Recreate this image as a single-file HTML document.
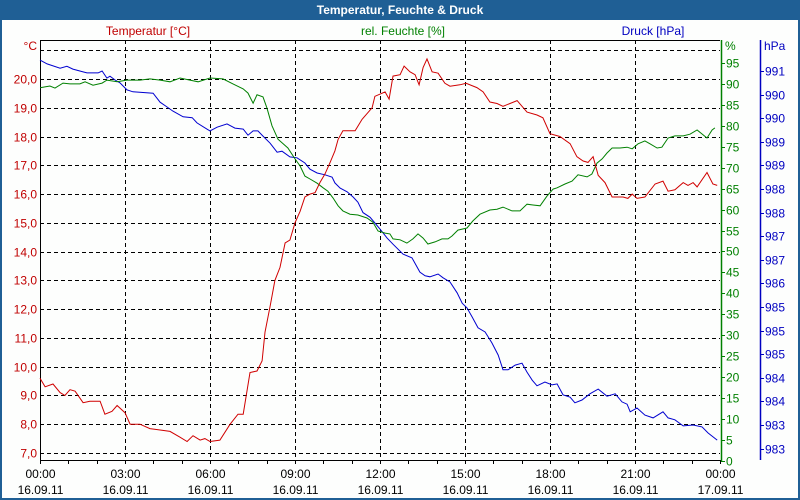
<!DOCTYPE html>
<html><head><meta charset="utf-8"><style>
html,body{margin:0;padding:0;background:#fff}
svg{display:block;font-family:"Liberation Sans",sans-serif}
</style></head><body>
<svg id="chart" width="800" height="500" viewBox="0 0 800 500" xmlns="http://www.w3.org/2000/svg">
<rect x="0" y="0" width="800" height="500" fill="#1f5f95"/>
<rect x="2" y="20" width="796" height="478" fill="#fdfefd"/>
<text x="400" y="14" text-anchor="middle" fill="#fff" font-weight="bold" font-size="12">Temperatur, Feuchte &amp; Druck</text>
<text x="148" y="35" text-anchor="middle" fill="#c00000" font-size="12">Temperatur [°C]</text>
<text x="403" y="35" text-anchor="middle" fill="#008000" font-size="12">rel. Feuchte [%]</text>
<text x="653" y="35" text-anchor="middle" fill="#0000c0" font-size="12">Druck [hPa]</text>
<text x="37" y="50" text-anchor="end" fill="#c00000" font-size="12">°C</text>
<text x="725" y="50" fill="#008000" font-size="12">%</text>
<text x="764" y="50" fill="#0000c0" font-size="12">hPa</text>
<g id="grid"></g>
<g id="axes"></g>
<g id="series"></g>
</svg>
<script>
const tempTicks=[7,8,9,10,11,12,13,14,15,16,17,18,19,20,21];
const tempTickLabels=["7,0","8,0","9,0","10,0","11,0","12,0","13,0","14,0","15,0","16,0","17,0","18,0","19,0","20,0",""];
const humTicks=[0,5,10,15,20,25,30,35,40,45,50,55,60,65,70,75,80,85,90,95];
const presTicks=[983.0,983.5,984.0,984.5,985.0,985.5,986.0,986.5,987.0,987.5,988.0,988.5,989.0,989.5,990.0,990.5,991.0];
const presTickLabels=["983","983","984","984","985","985","985","986","987","987","988","988","989","989","990","990","991"];
const timeTicks=[0,3,6,9,12,15,18,21,24];
const timeLabels=["00:00","03:00","06:00","09:00","12:00","15:00","18:00","21:00","00:00"];
const dateLabels=["16.09.11","16.09.11","16.09.11","16.09.11","16.09.11","16.09.11","16.09.11","16.09.11","17.09.11"];

const tempTime=[0,.18,.46,.71,.88,1.06,1.24,1.52,1.76,2.12,2.29,2.54,2.72,3.0,3.18,3.53,3.88,4.24,4.59,4.94,5.19,5.4,5.65,5.82,6.0,6.35,6.71,6.99,7.17,7.41,7.66,7.84,7.94,8.12,8.29,8.47,8.65,8.82,9.0,9.18,9.35,9.53,9.71,9.88,10.06,10.24,10.41,10.52,10.69,11.12,11.37,11.72,11.82,12.18,12.32,12.46,12.71,12.85,13.06,13.24,13.38,13.52,13.66,13.84,14.05,14.29,14.47,14.82,15.04,15.42,15.64,15.88,16.13,16.34,16.84,17.19,17.54,17.75,18.0,18.35,18.71,18.95,19.17,19.34,19.52,19.7,19.94,20.19,20.58,20.75,20.9,21.07,21.35,21.71,21.99,22.17,22.41,22.7,22.87,23.05,23.19,23.54,23.75,23.9];
const tempValues=[9.6,9.3,9.4,9.1,9.0,9.2,9.15,8.75,8.8,8.8,8.35,8.45,8.65,8.4,8.0,8.0,7.85,7.8,7.75,7.55,7.4,7.6,7.45,7.5,7.4,7.45,8.0,8.35,8.35,9.8,9.85,10.2,11.2,12.1,13.0,13.45,14.3,14.4,15.0,15.4,15.9,16.0,16.05,16.4,16.7,17.1,17.5,17.9,18.2,18.2,18.6,19.0,19.4,19.55,19.3,20.1,20.15,20.45,20.25,20.15,19.8,20.4,20.7,20.25,20.2,19.85,19.75,19.8,19.85,19.7,19.55,19.2,19.15,19.05,19.25,18.85,18.75,18.65,18.1,18.0,17.75,17.3,17.15,17.1,17.3,16.65,16.4,15.9,15.9,15.85,16.0,15.85,15.9,16.35,16.45,16.1,16.15,16.4,16.3,16.4,16.25,16.75,16.35,16.3];

const humTime=[0,.35,.53,.81,1.06,1.41,1.59,1.87,2.19,2.36,2.72,3.07,3.53,3.88,4.24,4.59,4.94,5.29,5.58,6.0,6.46,6.81,7.17,7.34,7.52,7.66,7.87,8.01,8.19,8.4,8.75,9.0,9.18,9.35,9.53,9.78,9.99,10.16,10.34,10.52,10.69,10.94,11.22,11.54,11.75,11.93,12.18,12.35,12.46,12.71,12.95,13.16,13.34,13.52,13.69,13.94,14.19,14.4,14.54,14.75,15.07,15.28,15.53,15.88,16.13,16.34,16.66,16.94,17.19,17.4,17.65,17.89,18.11,18.25,18.53,18.78,18.99,19.31,19.48,19.66,19.84,20.01,20.19,20.47,20.72,20.9,21.11,21.35,21.53,21.78,21.95,22.17,22.41,22.7,22.94,23.19,23.54,23.72,23.82];
const humValues=[89.1,89.5,89.0,90.2,90.0,90.0,90.5,89.7,90.2,90.9,90.5,90.9,90.9,91.2,90.9,90.5,91.4,90.9,90.5,91.4,91.2,90.0,88.8,87.8,85.4,87.4,86.9,84.2,80.0,76.8,74.7,72.1,70.4,68.0,67.3,66.3,65.2,64.4,62.8,60.9,59.7,58.9,58.7,58.0,57.0,54.9,54.4,54.2,53.0,52.8,52.0,53.0,54.2,53.2,51.8,52.3,53.0,53.0,53.7,55.1,55.6,57.3,58.9,59.9,60.1,60.6,59.7,59.7,61.3,61.1,60.9,63.2,64.9,65.2,66.1,66.8,68.3,67.8,68.5,71.1,72.1,73.5,74.7,74.7,74.9,74.5,75.7,76.4,75.7,74.7,74.9,77.1,77.6,77.6,78.0,79.0,77.1,79.0,79.5];

const presTime=[0,.25,.71,.95,1.16,1.52,1.66,2.05,2.19,2.36,2.47,2.65,2.82,3.07,3.28,3.99,4.24,4.48,4.69,5.05,5.37,5.54,5.89,6.0,6.25,6.6,6.88,7.17,7.34,7.52,7.69,7.87,8.12,8.37,8.54,8.82,9.07,9.35,9.53,9.78,10.06,10.31,10.41,10.59,10.84,11.05,11.22,11.4,11.65,11.82,12.0,12.25,12.46,12.81,13.13,13.41,13.59,13.76,14.05,14.22,14.47,14.72,14.9,15.07,15.25,15.46,15.71,15.95,16.17,16.34,16.52,16.77,17.01,17.19,17.37,17.54,17.82,18.07,18.25,18.46,18.71,18.88,19.13,19.41,19.7,20.01,20.3,20.54,20.72,20.83,21.07,21.35,21.64,21.99,22.17,22.41,22.7,23.05,23.37,23.58,23.9];
const presValues=[991.23,991.15,991.06,991.1,991.04,990.98,990.96,990.96,991.0,990.85,990.89,990.81,990.75,990.6,990.56,990.53,990.34,990.24,990.15,990.03,990.01,989.9,989.77,989.73,989.81,989.88,989.79,989.77,989.64,989.73,989.73,989.62,989.47,989.28,989.3,989.18,989.16,989.05,988.92,988.84,988.8,988.75,988.63,988.52,988.44,988.33,988.22,988.0,987.9,987.78,987.65,987.46,987.33,987.12,987.04,986.74,986.66,986.64,986.7,986.62,986.53,986.3,986.08,985.98,985.79,985.56,985.47,985.24,984.98,984.67,984.67,984.77,984.81,984.62,984.45,984.33,984.41,984.35,984.37,984.14,984.09,983.97,984.03,984.16,984.26,984.11,984.16,983.99,983.94,983.78,983.86,983.71,983.65,983.78,983.65,983.61,983.48,983.5,983.46,983.33,983.18];

const NS="http://www.w3.org/2000/svg";
const L=40,R=720,T=40,B=460;
const xS=h=>L+h*(R-L)/24;
const yT=v=>79+(20-v)*28.77;
const yH=v=>461-v*4.19;
const yP=v=>71+(991-v)*47.2;
function mk(tag,attrs,parent,txt){const e=document.createElementNS(NS,tag);for(const k in attrs)e.setAttribute(k,attrs[k]);if(txt!==undefined)e.textContent=txt;parent.appendChild(e);return e;}
const grid=document.getElementById('grid'),axes=document.getElementById('axes'),series=document.getElementById('series');

tempTicks.forEach((v,i)=>{
  const y=Math.round(yT(v))+0.5;
  const g=mk('line',{x1:L,x2:R,y1:y,y2:y,stroke:'#000','stroke-dasharray':'4,3','stroke-width':1},grid);
  
  
  const t=mk('text',{x:37,y:y+4,'text-anchor':'end',fill:'#c00000','font-size':12},axes,tempTickLabels[i]);
  
  
});
timeTicks.forEach((h,i)=>{
  const x=Math.round(xS(h))+0.5;
  if(i>0&&i<timeTicks.length-1){
    const g=mk('line',{x1:x,x2:x,y1:T,y2:B,stroke:'#000','stroke-dasharray':'4,3','stroke-width':1},grid);
    
    
  }
  const t1=mk('text',{x:x,y:478,'text-anchor':'middle',fill:'#000','font-size':12},axes,timeLabels[i]);
  
  
  const t2=mk('text',{x:x,y:494,'text-anchor':'middle',fill:'#000','font-size':12},axes,dateLabels[i]);
  
  
});
for(let h=0;h<=24;h++){
  const x=Math.round(xS(h))+0.5;
  const tk=mk('line',{x1:x,x2:x,y1:B,y2:B+4,stroke:'#000'},axes);
  
  
}
let a=mk('line',{x1:L+0.5,x2:L+0.5,y1:T,y2:B+1,stroke:'#000'},axes);


a=mk('line',{x1:L,x2:R,y1:T+0.5,y2:T+0.5,stroke:'#000'},axes);


a=mk('line',{x1:L,x2:R,y1:B+0.5,y2:B+0.5,stroke:'#000'},axes);


a=mk('line',{x1:721.5,x2:721.5,y1:T,y2:B+1,stroke:'#008000','stroke-width':1.5},axes);


a=mk('line',{x1:760.5,x2:760.5,y1:T,y2:B,stroke:'#0000c0','stroke-width':1.5},axes);


humTicks.forEach(v=>{
  const y=Math.round(yH(v))+0.5;
  const tk=mk('line',{x1:721,x2:725,y1:y,y2:y,stroke:'#008000'},axes);
  
  
  const t=mk('text',{x:726,y:y+4,fill:'#008000','font-size':12},axes,String(v));
  
  
});
presTicks.forEach((v,i)=>{
  const y=Math.round(yP(v))+0.5;
  const tk=mk('line',{x1:760,x2:764,y1:y,y2:y,stroke:'#0000c0'},axes);
  
  
  const t=mk('text',{x:765,y:y+4,fill:'#0000c0','font-size':12},axes,presTickLabels[i]);
  
  
});
function path(times,vals,yf,color,name){
  const d=times.map((h,i)=>(i?'L':'M')+xS(h).toFixed(1)+','+yf(vals[i]).toFixed(1)).join(' ');
  const p=mk('path',{d:d,fill:'none',stroke:color,'stroke-width':1},series);
  
  
}
path(presTime,presValues,yP,'#0000d0','pressure-line');
path(humTime,humValues,yH,'#008000','humidity-line');
path(tempTime,tempValues,yT,'#d00000','temperature-line');
</script>
</body></html>
